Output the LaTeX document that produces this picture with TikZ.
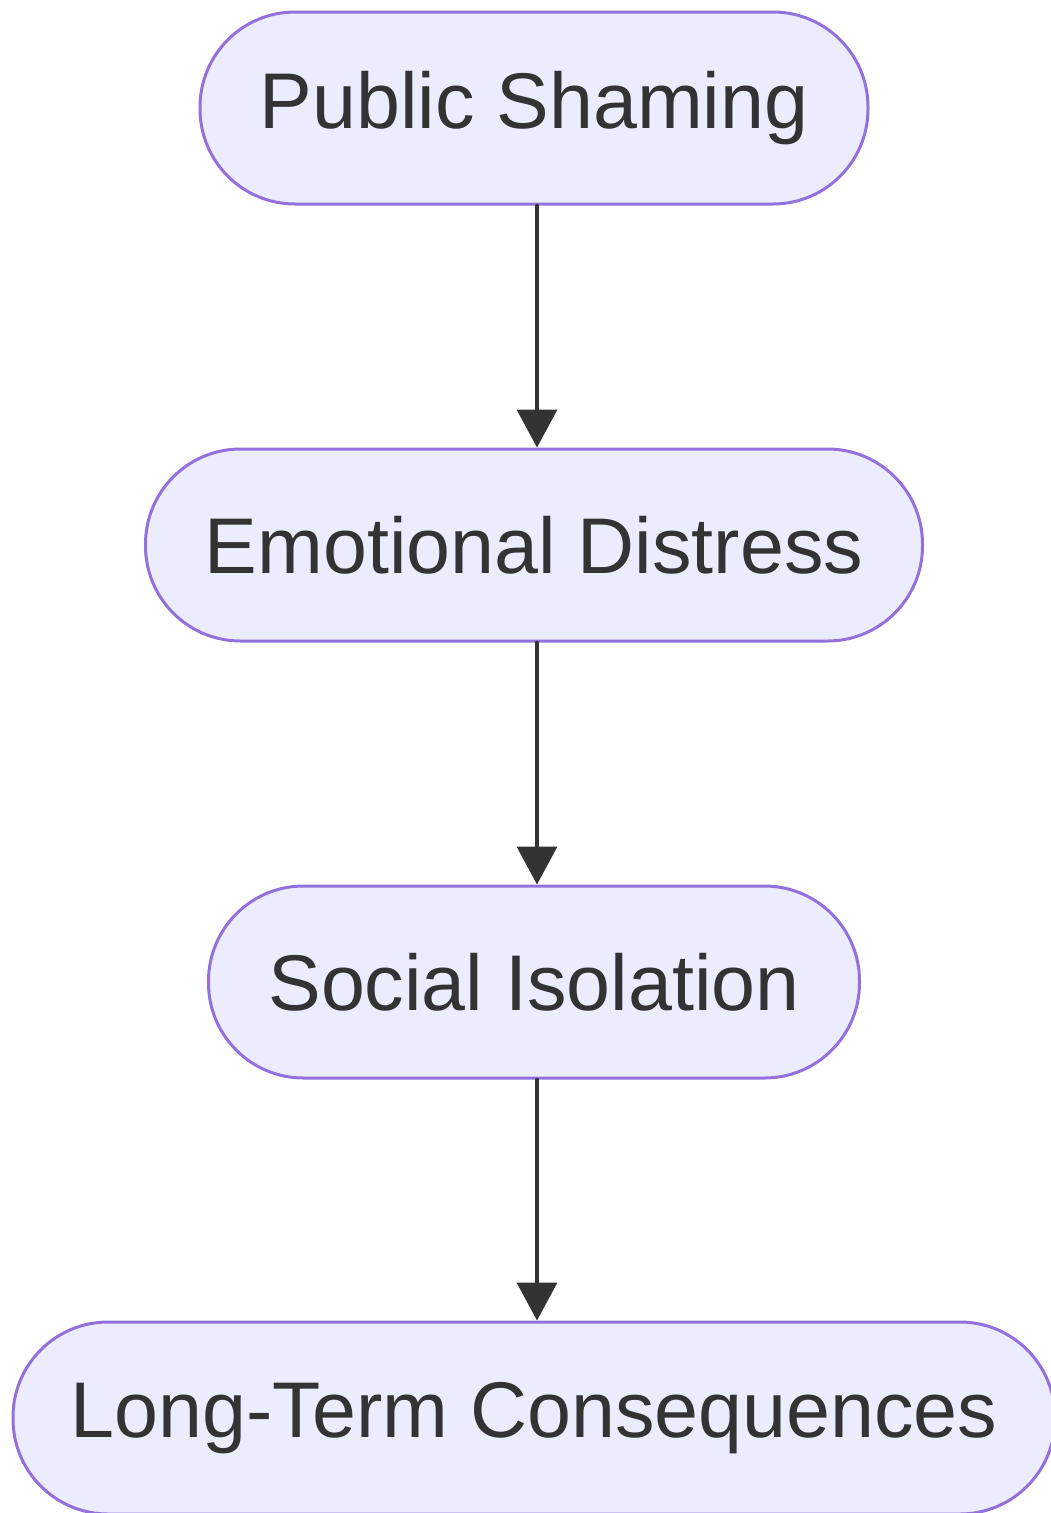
\documentclass[tikz,border=0pt]{standalone}
\usepackage{fontspec}
\setmainfont{Liberation Sans}
\usetikzlibrary{arrows.meta}
\definecolor{boxfill}{HTML}{ECECFF}
\definecolor{boxline}{HTML}{9370DB}
\definecolor{ink}{HTML}{333333}
\begin{document}
\begin{tikzpicture}[line cap=round,line join=round,x=1pt,y=-1pt,
  stadium/.style={draw=boxline,fill=boxfill,line width=3pt,rounded corners=95pt,
    minimum height=192pt,text=ink,font=\fontsize{79}{90}\selectfont},
  flow/.style={draw=ink,line width=3.5pt,-{Triangle[length=38pt,width=40pt]}}]
\useasboundingbox (0,0) rectangle (1051,1513);
\node[stadium,minimum width=668pt] (shame) at (534,108) {Public Shaming};
\node[stadium,minimum width=777pt] (distress) at (534,545) {Emotional Distress};
\node[stadium,minimum width=651pt] (isolate) at (534,982) {Social Isolation};
\node[stadium,minimum width=1042pt] (conseq) at (534,1418) {Long-Term Consequences};
\draw[flow] ([xshift=3pt]shame.south) -- ([xshift=3pt]distress.north);
\draw[flow] ([xshift=3pt]distress.south) -- ([xshift=3pt]isolate.north);
\draw[flow] ([xshift=3pt]isolate.south) -- ([xshift=3pt]conseq.north);
\end{tikzpicture}
\end{document}
